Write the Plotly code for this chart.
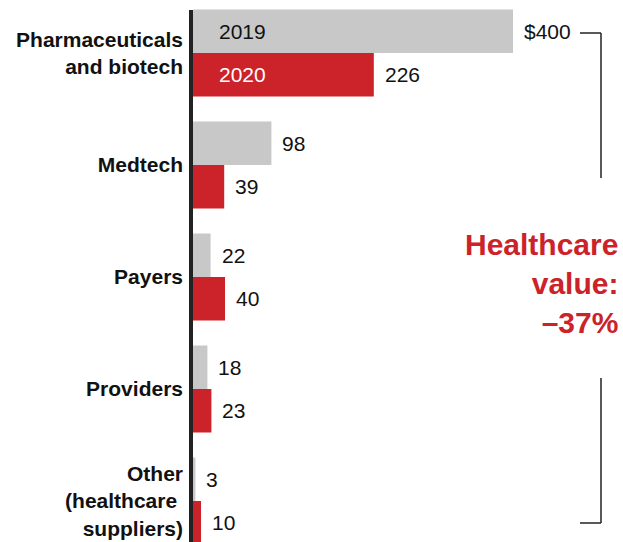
import plotly.graph_objects as go

# Segment labels and deal values (US$ billions) for the two years
categories = ["Pharmaceuticals<br>and biotech", "Medtech", "Payers", "Providers",
              "Other<br>(healthcare\u00a0<br>suppliers)"]
values_2019 = [400, 98, 22, 18, 3]
values_2020 = [226, 39, 40, 23, 10]
years = ["2019", "2020"]
summary_lines = ["Healthcare", "value:", "\u201337%"]

W, H = 623, 542
GRAY = "#c8c8c8"
RED = "#cc2229"
FONT = "Arial, Liberation Sans, sans-serif"

px_per_unit = 0.8
x0_px = 193
pitch = 112
first_center = 53
half_offset = 21.75  # half of one bar's thickness in px

fig = go.Figure()
for name, vals, col in [(years[0], values_2019, GRAY), (years[1], values_2020, RED)]:
    fig.add_trace(go.Bar(
        y=categories, x=vals, name=name, orientation="h",
        marker=dict(color=col, line=dict(width=0)),
        showlegend=False, hoverinfo="skip",
    ))

annotations = []
# value labels just past the end of each bar
for vals, shift in [(values_2019, half_offset), (values_2020, -half_offset)]:
    for i, (cat, v) in enumerate(zip(categories, vals)):
        txt = f"${v}" if (i == 0 and vals is values_2019) else f"{v}"
        annotations.append(dict(
            x=v, y=cat, xref="x", yref="y", text=txt, showarrow=False,
            xanchor="left", yanchor="middle", xshift=9, yshift=shift,
            font=dict(family=FONT, size=21, color="#111111"),
        ))
# year labels inside the first pair of bars
for yr, shift, col in [(years[0], half_offset, "#111111"), (years[1], -half_offset, "#ffffff")]:
    annotations.append(dict(
        x=0, y=categories[0], xref="x", yref="y", text=yr, showarrow=False,
        xanchor="left", yanchor="middle", xshift=24, yshift=shift,
        font=dict(family=FONT, size=21, color=col),
    ))
# total change callout
annotations.append(dict(
    x=620 / W, y=1 - 283 / H, xref="paper", yref="paper",
    text="<br>".join(summary_lines), showarrow=False, align="right",
    xanchor="right", yanchor="middle",
    font=dict(family=FONT, size=30, color=RED, weight="bold"),
))

line_col = "#222222"
def px(x):
    return x / W
def py(y):
    return 1 - y / H

shapes = [
    # thick baseline
    dict(type="line", xref="paper", yref="paper", x0=px(191), x1=px(191),
         y0=py(10), y1=py(H + 5), line=dict(color=line_col, width=4)),
    # bracket, upper part
    dict(type="line", xref="paper", yref="paper", x0=px(580), x1=px(601),
         y0=py(33), y1=py(33), line=dict(color=line_col, width=1.5)),
    dict(type="line", xref="paper", yref="paper", x0=px(601), x1=px(601),
         y0=py(33), y1=py(178), line=dict(color=line_col, width=1.5)),
    # bracket, lower part
    dict(type="line", xref="paper", yref="paper", x0=px(601), x1=px(601),
         y0=py(378), y1=py(523), line=dict(color=line_col, width=1.5)),
    dict(type="line", xref="paper", yref="paper", x0=px(580), x1=px(601),
         y0=py(523), y1=py(523), line=dict(color=line_col, width=1.5)),
]

n = len(categories)
fig.update_layout(
    width=W, height=H,
    margin=dict(l=0, r=0, t=0, b=0),
    paper_bgcolor="white", plot_bgcolor="white",
    barmode="group", bargap=25 / pitch, bargroupgap=0,
    xaxis=dict(domain=[x0_px / W, 1], range=[0, (W - x0_px) / px_per_unit],
               visible=False, fixedrange=True),
    yaxis=dict(type="category", categoryarray=categories,
               range=[(H - first_center) / pitch, -first_center / pitch],
               showgrid=False, zeroline=False, showline=False, ticks="",
               ticklabelstandoff=9,
               tickfont=dict(family=FONT, size=21, color="#111111", weight="bold")),
    annotations=annotations,
    shapes=shapes,
)

fig.write_html("out.html")
